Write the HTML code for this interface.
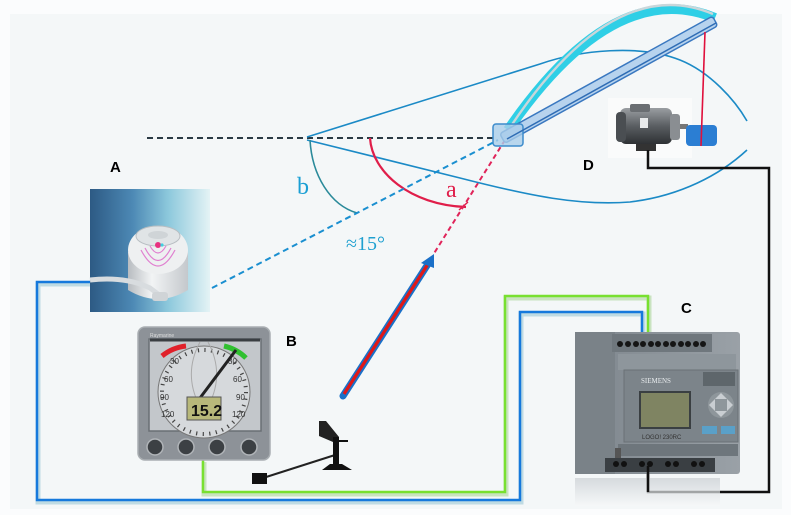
<!DOCTYPE html>
<html><head><meta charset="utf-8"><style>
html,body{margin:0;padding:0;background:#fbfcfd;}
svg{display:block;}
.s{font-family:"Liberation Sans",sans-serif;}
.r{font-family:"Liberation Serif",serif;}
</style></head><body>
<svg width="791" height="515" viewBox="0 0 791 515" xmlns="http://www.w3.org/2000/svg">
<defs>
<linearGradient id="sg" x1="0" x2="1" y1="0" y2="0">
<stop offset="0" stop-color="#2d5a84"/><stop offset="0.35" stop-color="#4c88b4"/><stop offset="0.65" stop-color="#8cc8dc"/><stop offset="1" stop-color="#e4f3f5"/>
</linearGradient>
<linearGradient id="cyl" x1="0" x2="1">
<stop offset="0" stop-color="#b8bcc0"/><stop offset="0.4" stop-color="#f2f4f5"/><stop offset="1" stop-color="#c4c8cc"/>
</linearGradient>
<linearGradient id="mot" x1="0" x2="0" y1="0" y2="1">
<stop offset="0" stop-color="#9a9ea2"/><stop offset="0.5" stop-color="#5a5e62"/><stop offset="1" stop-color="#2e3134"/>
</linearGradient>
<linearGradient id="plc" x1="0" x2="1">
<stop offset="0" stop-color="#7d858c"/><stop offset="1" stop-color="#9aa1a7"/>
</linearGradient>
<linearGradient id="refl" x1="0" x2="0" y1="0" y2="1">
<stop offset="0" stop-color="#c9ced2"/><stop offset="1" stop-color="#f6f8f9"/>
</linearGradient>
</defs>
<rect x="10" y="14" width="772" height="495" fill="#f4f7f8"/>

<!-- black dashed horizontal -->
<line x1="147" y1="138" x2="495" y2="138" stroke="#2a3a44" stroke-width="2" stroke-dasharray="6,4"/>
<!-- hull curves -->
<path d="M307,137 L540,64 C580,50 640,44 680,60 C710,72 735,100 747,121" fill="none" stroke="#1b8ac6" stroke-width="1.6"/>
<path d="M307,140 L460,178 C530,196 580,206 630,202 C680,196 720,175 747,150" fill="none" stroke="#1b8ac6" stroke-width="1.6"/>
<!-- arc b -->
<path d="M310,140 C312,175 330,205 357,213" fill="none" stroke="#2a8a9a" stroke-width="1.6"/>
<!-- arc a -->
<path d="M370,138 C372,172 410,205 466,207" fill="none" stroke="#e01e4a" stroke-width="2.2"/>
<line x1="459" y1="210" x2="468" y2="202" stroke="#e01e4a" stroke-width="1.5"/>
<!-- blue dashed -->
<line x1="212" y1="288" x2="498" y2="140" stroke="#1a8fd0" stroke-width="2" stroke-dasharray="6,4"/>
<!-- red dashed -->
<line x1="505" y1="140" x2="433" y2="255" stroke="#e0245a" stroke-width="2" stroke-dasharray="5,3.5"/>

<!-- cyan arc -->
<path d="M508,130 Q614,-24 715,18" fill="none" stroke="#2fcfe6" stroke-width="10"/>
<path d="M511,126 Q614,-28 713,14" fill="none" stroke="#c9d6da" stroke-width="2.4"/>
<!-- boom -->
<g transform="translate(505,137) rotate(-28.9)">
<rect x="-3" y="-5.5" width="243" height="11" rx="3" fill="#b7d3ee" stroke="#3a78c0" stroke-width="1.5"/>
</g>
<rect x="493" y="124" width="30" height="22" rx="3" fill="#a9cdea" fill-opacity="0.8" stroke="#3d8ccc" stroke-width="1.5"/>
<line x1="507" y1="139" x2="716" y2="23" stroke="#2f6db5" stroke-width="1.5"/>

<!-- motor -->
<rect x="608" y="98" width="84" height="60" fill="#fafbfb"/>
<rect x="620" y="108" width="52" height="36" rx="6" fill="url(#mot)"/>
<rect x="616" y="112" width="10" height="30" rx="4" fill="#4a4e52"/>
<rect x="630" y="104" width="20" height="8" rx="2" fill="#6a6e72"/>
<rect x="670" y="114" width="10" height="26" rx="3" fill="#8a8e92"/>
<rect x="680" y="124" width="8" height="5" fill="#777"/>
<rect x="636" y="144" width="20" height="7" fill="#333"/>
<rect x="640" y="118" width="8" height="10" fill="#e8eaeb"/>
<rect x="686" y="125" width="31" height="21" rx="4" fill="#2b7ed3"/>
<!-- red rope -->
<line x1="705" y1="32" x2="701" y2="146" stroke="#e0103c" stroke-width="1.6"/>

<!-- wires -->
<polyline points="90,282 37,282 37,500 520,500 520,312 642,312 642,333" fill="none" stroke="#bfdbe3" stroke-width="5" transform="translate(1,2)"/>
<polyline points="90,282 37,282 37,500 520,500 520,312 642,312 642,333" fill="none" stroke="#1679dc" stroke-width="2.5"/>
<polyline points="203,460 203,492 505,492 505,296 648,296 648,333" fill="none" stroke="#c9e3c0" stroke-width="5" transform="translate(1,2)"/>
<polyline points="203,460 203,492 505,492 505,296 648,296 648,333" fill="none" stroke="#78e030" stroke-width="2.5"/>
<polyline points="648,150 648,168 769,168 769,492 648,492 648,474" fill="none" stroke="#111" stroke-width="2.5"/>

<!-- sensor A -->
<rect x="90" y="189" width="120" height="123" fill="url(#sg)"/>
<path d="M128,252 L128,290 Q158,308 188,290 L188,252 Z" fill="url(#cyl)"/>
<ellipse cx="158" cy="250" rx="30" ry="24" fill="#eef0f1"/>
<ellipse cx="158" cy="236" rx="22" ry="10" fill="#e0e4e6" stroke="#b8bec2"/>
<ellipse cx="158" cy="235" rx="10" ry="4" fill="#cfd4d7"/>
<path d="M145,248 q13,25 26,0 M141,250 q17,32 34,0 M150,246 q8,14 16,0" fill="none" stroke="#e080d0" stroke-width="1.2"/>
<circle cx="158" cy="245" r="3" fill="#e83080"/>
<circle cx="162" cy="245" r="1.6" fill="#40d0e0"/>
<path d="M90,280 Q125,276 150,288 L158,294" fill="none" stroke="#d8dcdf" stroke-width="5"/>
<rect x="152" y="292" width="16" height="9" rx="3" fill="#d0d4d7"/>

<!-- instrument B -->
<rect x="138" y="327" width="132" height="133" rx="7" fill="#8d9298" stroke="#a9aeb2" stroke-width="1.5"/>
<text class="s" x="150" y="337" font-size="5" fill="#ddd">Raymarine</text>
<rect x="149" y="339" width="112" height="92" fill="#c3c7cb" stroke="#6a6f74" stroke-width="1.5"/>
<circle cx="204" cy="392" r="46" fill="#d6d9dc" stroke="#777" stroke-width="1"/>
<circle cx="204" cy="392" r="42" fill="none" stroke="#444" stroke-width="4" stroke-dasharray="1.2,5.4"/>
<line x1="150" y1="340" x2="260" y2="340" stroke="#3a3e42" stroke-width="3"/>
<path d="M162,356 A46,46 0 0 1 186,346" fill="none" stroke="#e0202a" stroke-width="5"/>
<path d="M224,346 A46,46 0 0 1 246,358" fill="none" stroke="#30c030" stroke-width="5"/>
<path d="M200,342 Q185,370 196,398 M208,342 Q223,370 212,398" fill="none" stroke="#aaa" stroke-width="1"/>
<g class="s" font-size="8" fill="#333">
<text x="170" y="364">30</text><text x="228" y="364">30</text>
<text x="164" y="382">60</text><text x="233" y="382">60</text>
<text x="160" y="400">90</text><text x="236" y="400">90</text>
<text x="161" y="417">120</text><text x="232" y="417">120</text>
</g>
<line x1="200" y1="398" x2="236" y2="350" stroke="#222" stroke-width="3"/>
<rect x="187" y="397" width="34" height="23" fill="#b8b87a" stroke="#555" stroke-width="1"/>
<text class="s" x="191" y="416" font-size="16" font-weight="bold" fill="#111">15.2</text>
<g fill="#3c4044" stroke="#b0b4b8" stroke-width="1.5">
<circle cx="155" cy="447" r="8"/><circle cx="186" cy="447" r="8"/><circle cx="217" cy="447" r="8"/><circle cx="249" cy="447" r="8"/>
</g>

<!-- wind vane -->
<line x1="335" y1="455" x2="263" y2="478" stroke="#222" stroke-width="2"/>
<rect x="252" y="473" width="15" height="11" fill="#111"/>
<polygon points="319,421 326,421 339,437 333,442 319,436" fill="#222"/>
<rect x="333" y="437" width="6" height="30" fill="#111"/>
<line x1="339" y1="441" x2="348" y2="441" stroke="#111" stroke-width="2"/>
<path d="M322,470 L330,464 L342,464 L352,470 Z" fill="#111"/>

<!-- wind arrow -->
<line x1="343" y1="396" x2="428" y2="264" stroke="#1a70c8" stroke-width="7" stroke-linecap="round"/>
<line x1="344" y1="394" x2="428" y2="264" stroke="#e01818" stroke-width="3.2"/>
<polygon points="434,254 421,263 434,268" fill="#1a70c8"/>

<!-- PLC C -->
<rect x="575" y="478" width="145" height="28" fill="url(#refl)" opacity="0.7"/>
<rect x="575" y="332" width="165" height="142" rx="3" fill="url(#plc)"/>
<rect x="575" y="332" width="40" height="142" fill="#7a8288"/>
<rect x="612" y="334" width="100" height="18" fill="#6f777d"/>
<g fill="#151515">
<circle cx="620" cy="344" r="3"/><circle cx="628" cy="344" r="3"/><circle cx="636" cy="344" r="3"/><circle cx="643" cy="344" r="3"/><circle cx="651" cy="344" r="3"/><circle cx="658" cy="344" r="3"/><circle cx="666" cy="344" r="3"/><circle cx="673" cy="344" r="3"/><circle cx="681" cy="344" r="3"/><circle cx="688" cy="344" r="3"/><circle cx="696" cy="344" r="3"/><circle cx="703" cy="344" r="3"/>
</g>
<rect x="618" y="354" width="118" height="16" fill="#8e969c"/>
<rect x="624" y="370" width="114" height="72" fill="#7c848a" stroke="#6a7176"/>
<text class="r" x="641" y="383" font-size="7" fill="#e8ecee">SIEMENS</text>
<rect x="640" y="392" width="50" height="36" fill="#7f8462" stroke="#3a3f42" stroke-width="2"/>
<rect x="703" y="372" width="32" height="14" fill="#5e666b"/>
<circle cx="721" cy="405" r="13" fill="#8e969b"/>
<polygon points="721,393 727,399 715,399" fill="#c9ced2"/><polygon points="721,417 727,411 715,411" fill="#c9ced2"/>
<polygon points="709,405 715,399 715,411" fill="#c9ced2"/><polygon points="733,405 727,399 727,411" fill="#c9ced2"/>
<rect x="702" y="426" width="15" height="8" fill="#5aa0c8"/><rect x="721" y="426" width="14" height="8" fill="#5aa0c8"/>
<text class="s" x="642" y="439" font-size="6" fill="#333">LOGO! 230RC</text>
<rect x="618" y="444" width="120" height="12" fill="#6e767c"/>
<rect x="615" y="448" width="6" height="20" fill="#555"/>
<rect x="605" y="458" width="110" height="14" fill="#3a3f43"/>
<g fill="#111"><circle cx="616" cy="464" r="3"/><circle cx="624" cy="464" r="3"/><circle cx="642" cy="464" r="3"/><circle cx="650" cy="464" r="3"/><circle cx="668" cy="464" r="3"/><circle cx="676" cy="464" r="3"/><circle cx="694" cy="464" r="3"/><circle cx="702" cy="464" r="3"/></g>
<polyline points="648,466 648,492" fill="none" stroke="#111" stroke-width="2.5"/>

<!-- labels -->
<text class="s" x="110" y="172" font-size="15" font-weight="bold" fill="#000">A</text>
<text class="s" x="286" y="346" font-size="15" font-weight="bold" fill="#000">B</text>
<text class="s" x="681" y="313" font-size="15" font-weight="bold" fill="#000">C</text>
<text class="s" x="583" y="170" font-size="15" font-weight="bold" fill="#000">D</text>
<text class="r" x="297" y="194" font-size="24" fill="#1a9fd4">b</text>
<text class="r" x="446" y="197" font-size="24" fill="#e01e4a">a</text>
<text class="r" x="346" y="250" font-size="20" fill="#1fa0d0">≈15°</text>
</svg>
</body></html>
